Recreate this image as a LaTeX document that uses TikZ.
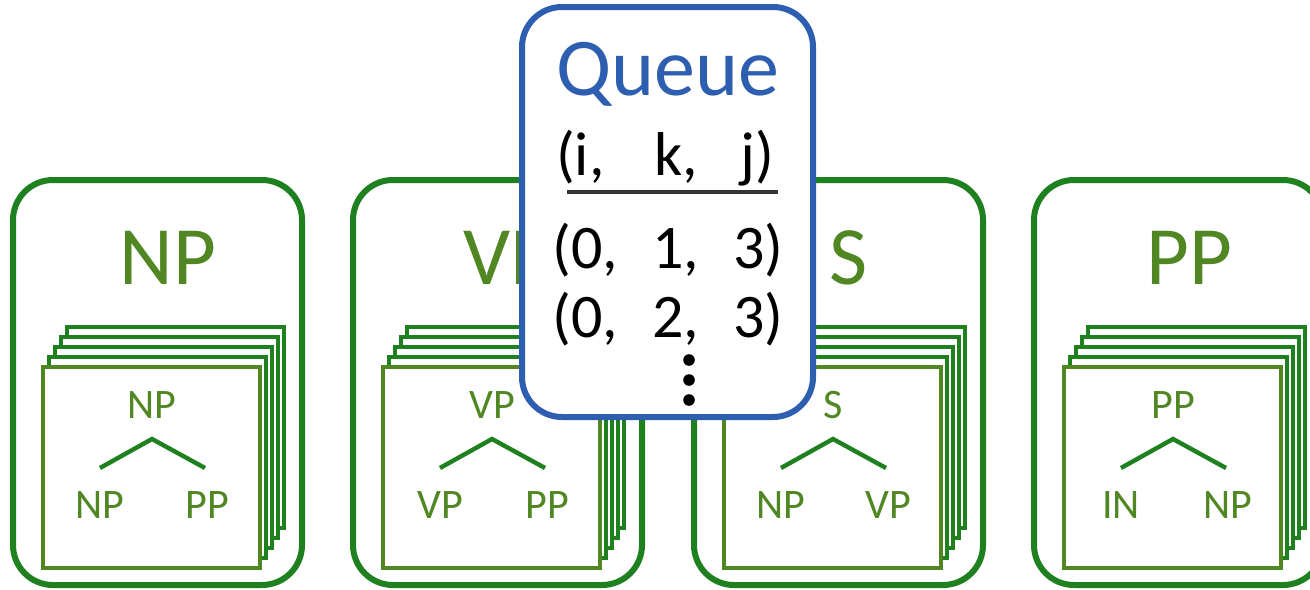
\documentclass[tikz,border=0pt]{standalone}
\usepackage{fontspec}
\setmainfont{Carlito}
\usetikzlibrary{positioning}
\definecolor{boxgreen}{RGB}{30,128,30}
\definecolor{cardgreen}{RGB}{80,135,35}
\definecolor{queueblue}{RGB}{45,94,176}
\definecolor{rulegray}{RGB}{51,51,51}

\begin{document}
\begin{tikzpicture}[x=0.5pt,y=-0.5pt,
  catbox/.style={draw=boxgreen,line width=3pt,rounded corners=20pt,minimum width=144.5pt,minimum height=202.5pt,inner sep=0pt},
  cattitle/.style={text=cardgreen,font=\fontsize{41.5}{48}\selectfont,inner sep=0pt},
  backcard/.style={draw=boxgreen,fill=white,line width=2.4pt,minimum width=108.5pt,minimum height=100.5pt,inner sep=0pt},
  frontcard/.style={backcard,draw=cardgreen},
  treelabel/.style={text=cardgreen,font=\fontsize{21}{25}\selectfont,inner sep=0pt},
  branch/.style={draw=boxgreen,line width=2.2pt},
  queuebox/.style={draw=queueblue,fill=white,line width=3pt,rounded corners=20pt,minimum width=145.5pt,minimum height=205pt,inner sep=0pt},
  entry/.style={font=\fontsize{31}{36}\selectfont,inner sep=0pt,anchor=base}]
\path[use as bounding box,clip] (0,0) rectangle (1310,589);
\foreach \x/\n/\t/\l/\r in {13/np/NP/NP/PP,353/vp/VP/VP/PP,694/s/S/NP/VP,1034/pp/PP/IN/NP}{
  \node[catbox] (\n box) at (\x+144.5,382.5) {};
  \node[cattitle] (\n title) at (\x+155,258) {\t};
  \foreach \k in {4,3,2,1}
    \node[backcard] (\n card\k) at (\x+138.5+6*\k,467.5-10*\k) {};
  \node[frontcard] (\n card) at (\x+138.5,467.5) {};
  \node[treelabel] (\n top) at (\x+139,405) {\t};
  \node[treelabel] (\n left) at (\x+87,505) {\l};
  \node[treelabel] (\n right) at (\x+194,505) {\r};
  \coordinate (\n apex) at (\x+139,439);
  \coordinate (\n l) at (\x+87,468);
  \coordinate (\n r) at (\x+192,468);
  \draw[branch] (\n l) -- (\n apex) -- (\n r);
}
\node[queuebox] (queue) at (667.5,212) {};
\node[entry,text=queueblue,font=\fontsize{41}{48}\selectfont] (qtitle) at (668,95) {Queue};
\node[entry] (qhead) at (665,175) {(i,\hspace{25pt}k,\hspace{21pt}j)};
\coordinate (rule l) at (567,192);
\coordinate (rule r) at (778,192);
\draw[rulegray,line width=2.2pt] (rule l) -- (rule r);
\node[entry] (qrow1) at (668,268) {(0,\hspace{17pt}1,\hspace{17pt}3)};
\node[entry] (qrow2) at (668,337) {(0,\hspace{17pt}2,\hspace{17pt}3)};
\foreach \y in {360,380,400}
  \fill (689,\y) circle (2.9pt);
\end{tikzpicture}
\end{document}
